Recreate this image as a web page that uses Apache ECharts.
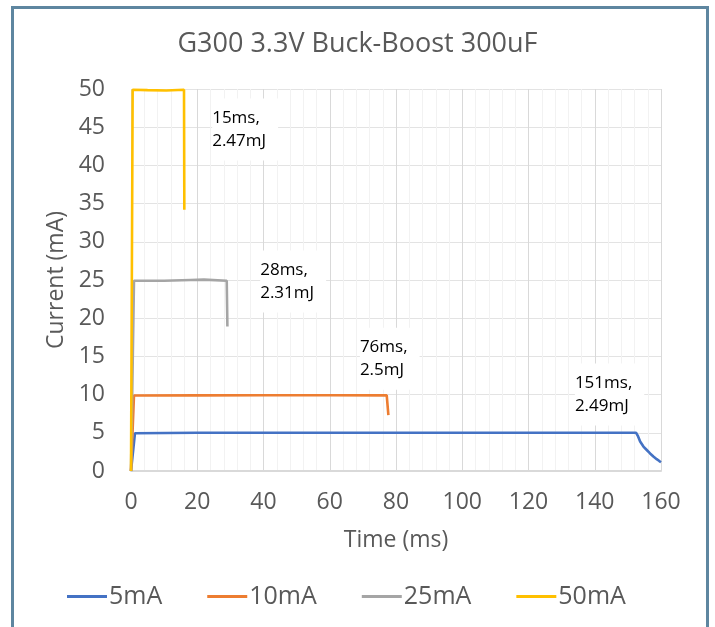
<!DOCTYPE html>
<html>
<head>
<meta charset="utf-8">
<script src="https://cdn.jsdelivr.net/npm/echarts@6/dist/echarts.min.js"></script>
<style>
html,body{margin:0;padding:0;background:#fff;}
#main{width:715px;height:627px;}
</style>
</head>
<body>
<div id="main"></div>
<script>
// ---- data ----
const seriesNames = ['5mA', '10mA', '25mA', '50mA'];
const seriesColors = ['#4472C4', '#ED7D31', '#A5A5A5', '#FFC000'];

const time5 = [0, 1.2, 20, 50, 100, 140, 152.5, 153.0, 153.7, 154.7, 155.7, 156.7, 157.7, 158.7, 159.5, 160];
const curr5 = [0, 4.95, 5.0, 5.0, 5.0, 5.0, 5.0, 4.6, 3.85, 3.2, 2.75, 2.3, 1.9, 1.55, 1.3, 1.15];

const time10 = [0, 0.9, 20, 40, 60, 77.2, 77.7];
const curr10 = [0, 9.88, 9.9, 9.92, 9.92, 9.9, 7.3];

const time25 = [0, 0.9, 10, 18.0, 18.3, 18.6, 22, 28.9, 29.1];
const curr25 = [0, 24.9, 24.9, 25.0, 24.85, 25.1, 25.05, 24.9, 18.9];

const time50 = [0, 0.5, 5, 10.6, 10.9, 11.2, 16.0, 16.1];
const curr50 = [0, 49.9, 49.85, 49.8, 49.55, 49.85, 49.9, 34.2];

const annotationTexts = ['15ms,\n2.47mJ', '28ms,\n2.31mJ', '76ms,\n2.5mJ', '151ms,\n2.49mJ'];
const annotationTime = [24.5, 39.0, 69.1, 134.0];
const annotationCurr = [44.7, 24.8, 14.7, 10.0];

const xTicks = { min: 0, max: 160, interval: 20 };
const yTicks = { min: 0, max: 50, interval: 5 };

const titleText = 'G300 3.3V Buck-Boost 300uF';
const xName = 'Time (ms)';
const yName = 'Current (mA)';

// ---- build ----
function zip(a, b) { return a.map((v, i) => [v, b[i]]); }
const allData = [zip(time5, curr5), zip(time10, curr10), zip(time25, curr25), zip(time50, curr50)];

const FONT = 'Open Sans';
const series = seriesNames.map((n, i) => ({
  name: n,
  type: 'line',
  data: allData[i],
  showSymbol: false,
  symbol: 'none',
  smooth: false,
  lineStyle: { color: seriesColors[i], width: 2.6 },
  itemStyle: { color: seriesColors[i] },
  z: 2 + i
}));

series.push({
  name: 'annotations',
  type: 'line',
  data: [],
  silent: true,
  z: 10,
  markPoint: {
    symbol: 'circle',
    symbolSize: 0,
    silent: true,
    data: annotationTexts.map((t, i) => ({
      coord: [annotationTime[i], annotationCurr[i]],
      value: t,
      label: {
        show: true,
        formatter: t,
        position: [0, 0],
        align: 'left',
        verticalAlign: 'middle',
        color: '#000',
        fontFamily: FONT,
        fontSize: 17,
        lineHeight: 23,
        backgroundColor: '#fff',
        padding: [8, 12, 8, 0]
      }
    }))
  }
});

const chart = echarts.init(document.getElementById('main'), null, { renderer: 'canvas' });
chart.setOption({
  backgroundColor: '#fff',
  animation: false,
  title: {
    text: titleText,
    left: 'center',
    top: 31,
    padding: 0,
    textStyle: { fontFamily: FONT, fontSize: 27, fontWeight: 'normal', color: '#595959' }
  },
  legend: {
    data: seriesNames,
    left: 67,
    top: 584,
    padding: 0,
    itemGap: 45,
    icon: 'rect',
    itemWidth: 40,
    itemHeight: 3,
    textStyle: { fontFamily: FONT, fontSize: 25, color: '#595959', padding: [0, 0, 0, -3] }
  },
  grid: { left: 131, right: 54, top: 89, bottom: 156, containLabel: false },
  xAxis: {
    type: 'value',
    min: xTicks.min, max: xTicks.max, interval: xTicks.interval,
    name: xName,
    nameLocation: 'middle',
    nameGap: 58,
    nameTextStyle: { fontFamily: FONT, fontSize: 23, color: '#595959' },
    axisLine: { show: true, lineStyle: { color: '#D9D9D9', width: 2 } },
    axisTick: { show: false },
    axisLabel: { fontFamily: FONT, fontSize: 23, color: '#595959', margin: 20 },
    splitLine: { show: true, lineStyle: { color: '#D9D9D9', width: 1 } },
    minorTick: { show: false, splitNumber: 5 },
    minorSplitLine: { show: true, lineStyle: { color: '#F2F2F2', width: 1 } }
  },
  yAxis: {
    type: 'value',
    min: yTicks.min, max: yTicks.max, interval: yTicks.interval,
    name: yName,
    nameLocation: 'middle',
    nameGap: 60,
    nameTextStyle: { fontFamily: FONT, fontSize: 23, color: '#595959' },
    axisLine: { show: false },
    axisTick: { show: false },
    axisLabel: { fontFamily: FONT, fontSize: 23, color: '#595959', margin: 26 },
    splitLine: { show: true, lineStyle: { color: '#E3E3E3', width: 1 } }
  },
  graphic: [{
    type: 'rect',
    shape: { x: 12.5, y: 7.5, width: 695, height: 640 },
    style: { fill: null, stroke: '#5E86A0', lineWidth: 3 },
    silent: true,
    z: 100
  }],
  series: series
});
</script>
</body>
</html>
